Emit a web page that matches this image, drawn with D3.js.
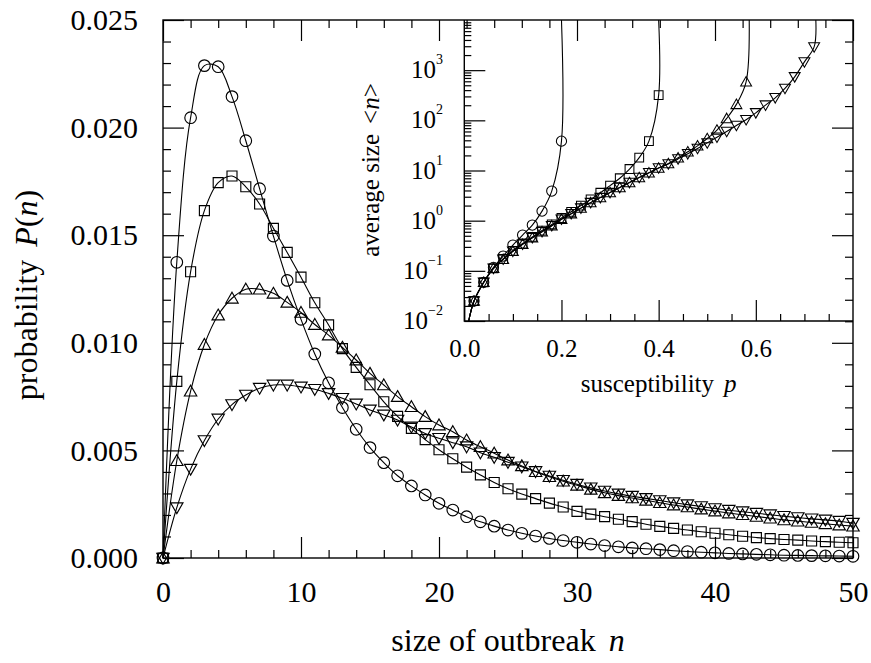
<!DOCTYPE html>
<html>
<head>
<meta charset="utf-8">
<script src="https://cdn.jsdelivr.net/npm/d3@7"></script>
<style>
  body { margin: 0; background: #fff; }
  svg { display: block; font-family: "Liberation Serif", "Times New Roman", serif; }
</style>
</head>
<body>
<div id="chart"></div>
<script>
// ---- main plot data: outbreak size distribution P(n), n = 0..50
const sizes = d3.range(0, 51);
const probCircle = [0, 0.01374, 0.02046, 0.02288, 0.02283, 0.02144, 0.01939, 0.01716, 0.01496, 0.01290,
    0.01109, 0.00948, 0.00814, 0.00699, 0.00598, 0.00513, 0.00443, 0.00382, 0.00335, 0.00293,
    0.00254, 0.00223, 0.00192, 0.00168, 0.00148, 0.00130, 0.00115, 0.00102, 0.00091, 0.00081,
    0.00073, 0.00065, 0.00058, 0.00052, 0.00047, 0.00043, 0.00039, 0.00034, 0.00030, 0.00027,
    0.00024, 0.00021, 0.00019, 0.00017, 0.00015, 0.00013, 0.00012, 0.00011, 0.00010, 0.00009, 0.00008];
const probSquare = [0, 0.00821, 0.01330, 0.01614, 0.01744, 0.01775, 0.01725, 0.01645, 0.01532, 0.01420,
    0.01305, 0.01186, 0.01083, 0.00973, 0.00886, 0.00805, 0.00726, 0.00658, 0.00602, 0.00550,
    0.00503, 0.00461, 0.00422, 0.00386, 0.00351, 0.00322, 0.00297, 0.00276, 0.00255, 0.00237,
    0.00217, 0.00204, 0.00192, 0.00180, 0.00169, 0.00157, 0.00147, 0.00138, 0.00130, 0.00122,
    0.00115, 0.00108, 0.00101, 0.00095, 0.00090, 0.00086, 0.00083, 0.00079, 0.00076, 0.00073, 0.00071];
const probTriUp = [0, 0.00452, 0.00775, 0.00992, 0.01129, 0.01207, 0.01249, 0.01249, 0.01230, 0.01188,
    0.01141, 0.01085, 0.01036, 0.00979, 0.00920, 0.00858, 0.00804, 0.00750, 0.00703, 0.00657,
    0.00618, 0.00587, 0.00548, 0.00517, 0.00487, 0.00455, 0.00428, 0.00401, 0.00378, 0.00357,
    0.00338, 0.00319, 0.00303, 0.00290, 0.00279, 0.00268, 0.00257, 0.00246, 0.00237, 0.00227,
    0.00218, 0.00209, 0.00201, 0.00193, 0.00185, 0.00177, 0.00171, 0.00165, 0.00159, 0.00153, 0.00148];
const probTriDown = [0, 0.00234, 0.00413, 0.00546, 0.00646, 0.00713, 0.00757, 0.00789, 0.00804, 0.00804,
    0.00795, 0.00784, 0.00765, 0.00742, 0.00716, 0.00688, 0.00665, 0.00641, 0.00609, 0.00579,
    0.00556, 0.00536, 0.00517, 0.00489, 0.00468, 0.00445, 0.00424, 0.00402, 0.00381, 0.00361,
    0.00343, 0.00326, 0.00311, 0.00298, 0.00287, 0.00277, 0.00267, 0.00257, 0.00248, 0.00239,
    0.00230, 0.00222, 0.00215, 0.00208, 0.00201, 0.00194, 0.00188, 0.00182, 0.00177, 0.00171, 0.00162];

// ---- inset data: average size <n> against susceptibility p
const pCircle = [0.02, 0.04, 0.06, 0.08, 0.10, 0.12, 0.14, 0.16, 0.18, 0.20];
const avgCircle = [0.025, 0.059, 0.117, 0.197, 0.327, 0.516, 0.817, 1.55, 3.89, 38.5];
const pSquare = [0.02, 0.04, 0.06, 0.08, 0.10, 0.12, 0.14, 0.16, 0.18, 0.20,
    0.22, 0.24, 0.26, 0.28, 0.30, 0.32, 0.34, 0.36, 0.38, 0.40];
const avgSquare = [0.025, 0.059, 0.112, 0.172, 0.25, 0.35, 0.475, 0.635, 0.84, 1.13,
    1.5, 2.0, 2.65, 3.6, 5.0, 7.0, 10.7, 18, 38.5, 318];
const pTriUp = [0.02, 0.04, 0.06, 0.08, 0.10, 0.12, 0.14, 0.16, 0.18, 0.20,
    0.22, 0.24, 0.26, 0.28, 0.30, 0.32, 0.34, 0.36, 0.38, 0.40,
    0.42, 0.44, 0.46, 0.48, 0.50, 0.52, 0.54, 0.56, 0.58];
const avgTriUp = [0.025, 0.059, 0.112, 0.17, 0.245, 0.339, 0.457, 0.603, 0.794, 1.07,
    1.38, 1.78, 2.29, 2.88, 3.63, 4.57, 5.75, 7.24, 9.0, 11.2,
    13.8, 17.9, 23.6, 31, 43.5, 64, 109, 208, 585];
const pTriDown = [0.02, 0.04, 0.06, 0.08, 0.10, 0.12, 0.14, 0.16, 0.18, 0.20,
    0.22, 0.24, 0.26, 0.28, 0.30, 0.32, 0.34, 0.36, 0.38, 0.40,
    0.42, 0.44, 0.46, 0.48, 0.50, 0.52, 0.54, 0.56, 0.58, 0.60,
    0.62, 0.64, 0.66, 0.68, 0.70, 0.72];
const avgTriDown = [0.025, 0.059, 0.112, 0.17, 0.245, 0.339, 0.457, 0.603, 0.794, 1.07,
    1.38, 1.78, 2.29, 2.88, 3.63, 4.57, 5.75, 7.24, 9.0, 11.2,
    13.5, 17, 21.5, 27.5, 35.5, 46, 60, 79, 103, 141,
    201, 281, 432, 736, 1462, 2910];
// where each theory line leaves the bottom and where it blows up
const lineStart = [0.009, 0.01];
const divergeP = [0.2, 0.4, 0.5864, 0.7235];

// tick labels
const mainXTicks = [0, 10, 20, 30, 40, 50];
const mainYTicks = [0, 0.005, 0.010, 0.015, 0.020, 0.025];
const insetXTicks = [0, 0.2, 0.4, 0.6];
const insetDecades = [-2, -1, 0, 1, 2, 3];

// ---- layout
const width = 871;
const height = 663;
const frame = { left: 163, right: 853, top: 20, bottom: 558 };
const inset = { left: 464.3, right: 853, top: 20, bottom: 321 };

const x = d3.scaleLinear().domain([0, 50]).range([frame.left, frame.right]);
const y = d3.scaleLinear().domain([0, 0.025]).range([frame.bottom, frame.top]);
const px = d3.scaleLinear().domain([0, 0.8]).range([inset.left, inset.right]);
const py = d3.scaleLog().domain([0.01, 10000]).range([inset.bottom, inset.top]);

const svg = d3.select('#chart').append('svg')
    .attr('width', width).attr('height', height);
svg.append('rect').attr('width', width).attr('height', height).attr('fill', '#fff');

// marker drawing, s = scale factor
const markerPath = (type, s) => {
    if (type === 'circle') {
        const r = 5.8 * s;
        return `M${-r},0A${r},${r} 0 1,0 ${r},0A${r},${r} 0 1,0 ${-r},0Z`;
    }
    if (type === 'square') {
        const h = 5 * s;
        return `M${-h},${-h}H${h}V${h}H${-h}Z`;
    }
    const w = 6.2 * s, t = 6 * s, b = 4.8 * s;
    if (type === 'up') return `M0,${-t}L${w},${b}L${-w},${b}Z`;
    return `M0,${t}L${w},${-b}L${-w},${-b}Z`;
};

const styleAxis = (g, size) => {
    g.attr('font-family', null).attr('font-size', size);
    g.select('.domain').remove();
    g.selectAll('.tick line').attr('stroke-width', 1.2);
    g.selectAll('.tick text').attr('fill', '#000');
};

// ---- main series
const mainSeries = [
    { type: 'circle', values: probCircle },
    { type: 'square', values: probSquare },
    { type: 'up', values: probTriUp },
    { type: 'down', values: probTriDown }
];

const mainLine = d3.line()
    .x(d => x(d[0]))
    .y(d => y(d[1]))
    .curve(d3.curveCatmullRom.alpha(0.5));

const mainG = svg.append('g').attr('class', 'main-series');
mainSeries.forEach(s => {
    const pts = sizes.map((n, i) => [n, s.values[i]]);
    mainG.append('path')
        .attr('d', mainLine(pts))
        .attr('fill', 'none')
        .attr('stroke', '#000')
        .attr('stroke-width', 1.1);
    mainG.selectAll(null)
        .data(pts)
        .join('path')
        .attr('d', markerPath(s.type, 1))
        .attr('transform', d => `translate(${x(d[0])},${y(d[1])})`)
        .attr('fill', 'none')
        .attr('stroke', '#000')
        .attr('stroke-width', 1.15);
});

// ---- main axes, bottom and left
const minorX = d3.range(0, 51, 2).filter(v => v % 10 !== 0);
const minorY = d3.range(0, 26).map(v => v / 1000).filter((v, i) => i % 5 !== 0);

svg.append('g')
    .attr('transform', `translate(0,${frame.bottom})`)
    .call(d3.axisBottom(x).tickValues(mainXTicks).tickSizeInner(-21).tickSizeOuter(0).tickPadding(23))
    .call(g => styleAxis(g, 30));
svg.append('g')
    .attr('transform', `translate(0,${frame.bottom})`)
    .call(d3.axisBottom(x).tickValues(minorX).tickSizeInner(-8).tickSizeOuter(0).tickFormat(''))
    .call(g => styleAxis(g, 30));
svg.append('g')
    .attr('transform', `translate(${frame.left},0)`)
    .call(d3.axisLeft(y).tickValues(mainYTicks).tickSizeInner(-21).tickSizeOuter(0).tickPadding(25)
        .tickFormat(d3.format('.3f')))
    .call(g => styleAxis(g, 30));
svg.append('g')
    .attr('transform', `translate(${frame.left},0)`)
    .call(d3.axisLeft(y).tickValues(minorY).tickSizeInner(-8).tickSizeOuter(0).tickFormat(''))
    .call(g => styleAxis(g, 30));

// main titles
svg.append('text')
    .attr('x', (frame.left + frame.right) / 2)
    .attr('y', 651)
    .attr('text-anchor', 'middle')
    .attr('font-size', 32)
    .call(t => {
        t.append('tspan').text('size of outbreak');
        t.append('tspan').attr('dx', 13).attr('font-style', 'italic').text('n');
    });
svg.append('text')
    .attr('transform', `translate(37,${(frame.top + frame.bottom) / 2 + 6}) rotate(-90)`)
    .attr('text-anchor', 'middle')
    .attr('font-size', 32)
    .call(t => {
        t.append('tspan').text('probability');
        t.append('tspan').attr('dx', 13).attr('font-style', 'italic').text('P');
        t.append('tspan').text('(');
        t.append('tspan').attr('font-style', 'italic').text('n');
        t.append('tspan').text(')');
    });

// ---- inset
svg.append('rect')
    .attr('x', inset.left).attr('y', inset.top)
    .attr('width', inset.right - inset.left).attr('height', inset.bottom - inset.top)
    .attr('fill', '#fff');

svg.append('clipPath').attr('id', 'inset-clip')
    .append('rect')
    .attr('x', inset.left).attr('y', inset.top)
    .attr('width', inset.right - inset.left).attr('height', inset.bottom - inset.top);

const insetSeries = [
    { type: 'circle', p: pCircle, v: avgCircle, pc: divergeP[0] },
    { type: 'square', p: pSquare, v: avgSquare, pc: divergeP[1] },
    { type: 'up', p: pTriUp, v: avgTriUp, pc: divergeP[2] },
    { type: 'down', p: pTriDown, v: avgTriDown, pc: divergeP[3] }
];

const insetLine = d3.line()
    .x(d => px(d[0]))
    .y(d => py(d[1]))
    .curve(d3.curveCatmullRom.alpha(0.5));

const insetG = svg.append('g').attr('class', 'inset-series');
insetSeries.forEach(s => {
    const pts = s.p.map((p, i) => [p, s.v[i]]);
    const linePts = [lineStart, ...pts, [s.pc, py.domain()[1]]];
    insetG.append('path')
        .attr('d', insetLine(linePts))
        .attr('clip-path', 'url(#inset-clip)')
        .attr('fill', 'none')
        .attr('stroke', '#000')
        .attr('stroke-width', 1.1);
    insetG.selectAll(null)
        .data(pts)
        .join('path')
        .attr('d', markerPath(s.type, 0.88))
        .attr('transform', d => `translate(${px(d[0])},${py(d[1])})`)
        .attr('fill', 'none')
        .attr('stroke', '#000')
        .attr('stroke-width', 1.05);
});

// inset axes
const insetMinorX = d3.range(1, 16).map(v => v * 0.05).filter((v, i) => (i + 1) % 4 !== 0);
const insetMajorY = insetDecades.map(k => Math.pow(10, k));
const insetMinorY = py.ticks().filter(v => !insetMajorY.some(m => Math.abs(v / m - 1) < 1e-6) && v < 10000);

svg.append('g')
    .attr('transform', `translate(0,${inset.bottom})`)
    .call(d3.axisBottom(px).tickValues(insetXTicks).tickSizeInner(-21).tickSizeOuter(0).tickPadding(18)
        .tickFormat(d3.format('.1f')))
    .call(g => styleAxis(g, 25));
svg.append('g')
    .attr('transform', `translate(0,${inset.bottom})`)
    .call(d3.axisBottom(px).tickValues(insetMinorX).tickSizeInner(-7).tickSizeOuter(0).tickFormat(''))
    .call(g => styleAxis(g, 25));
svg.append('g')
    .attr('transform', `translate(${inset.left},0)`)
    .call(d3.axisLeft(py).tickValues(insetMajorY).tickSizeInner(-21).tickSizeOuter(0).tickFormat(''))
    .call(g => styleAxis(g, 25));
svg.append('g')
    .attr('transform', `translate(${inset.left},0)`)
    .call(d3.axisLeft(py).tickValues(insetMinorY).tickSizeInner(-7).tickSizeOuter(0).tickFormat(''))
    .call(g => styleAxis(g, 25));

// 10^k labels
svg.append('g').selectAll('text')
    .data(insetDecades)
    .join('text')
    .attr('x', 443)
    .attr('y', k => py(Math.pow(10, k)) + 8)
    .attr('text-anchor', 'end')
    .attr('font-size', 25)
    .each(function (k) {
        const t = d3.select(this);
        t.append('tspan').text('10');
        t.append('tspan').attr('font-size', 14).attr('dy', -14)
            .text(k < 0 ? '\u2212' + Math.abs(k) : k);
    });

// inset border (left and bottom)
svg.append('path')
    .attr('d', `M${inset.left},${inset.top}V${inset.bottom}H${inset.right}`)
    .attr('fill', 'none')
    .attr('stroke', '#000')
    .attr('stroke-width', 1.4);

// inset titles
svg.append('text')
    .attr('x', (inset.left + inset.right) / 2)
    .attr('y', 392)
    .attr('text-anchor', 'middle')
    .attr('font-size', 25)
    .call(t => {
        t.append('tspan').text('susceptibility');
        t.append('tspan').attr('dx', 10).attr('font-style', 'italic').text('p');
    });
svg.append('text')
    .attr('transform', `translate(378.5,170) rotate(-90)`)
    .attr('text-anchor', 'middle')
    .attr('font-size', 25)
    .call(t => {
        t.append('tspan').text('average size');
        t.append('tspan').attr('dx', 10).text('<');
        t.append('tspan').attr('font-style', 'italic').text('n');
        t.append('tspan').text('>');
    });

// ---- main top and right ticks, drawn over the inset
svg.append('g')
    .attr('transform', `translate(0,${frame.top})`)
    .call(d3.axisTop(x).tickValues(mainXTicks).tickSizeInner(-21).tickSizeOuter(0).tickFormat(''))
    .call(g => styleAxis(g, 30));
svg.append('g')
    .attr('transform', `translate(0,${frame.top})`)
    .call(d3.axisTop(x).tickValues(minorX).tickSizeInner(-8).tickSizeOuter(0).tickFormat(''))
    .call(g => styleAxis(g, 30));
svg.append('g')
    .attr('transform', `translate(${frame.right},0)`)
    .call(d3.axisRight(y).tickValues(mainYTicks).tickSizeInner(-21).tickSizeOuter(0).tickFormat(''))
    .call(g => styleAxis(g, 30));
svg.append('g')
    .attr('transform', `translate(${frame.right},0)`)
    .call(d3.axisRight(y).tickValues(minorY).tickSizeInner(-8).tickSizeOuter(0).tickFormat(''))
    .call(g => styleAxis(g, 30));

// frame
svg.append('rect')
    .attr('x', frame.left).attr('y', frame.top)
    .attr('width', frame.right - frame.left).attr('height', frame.bottom - frame.top)
    .attr('fill', 'none')
    .attr('stroke', '#000')
    .attr('stroke-width', 1.4);
</script>
</body>
</html>
